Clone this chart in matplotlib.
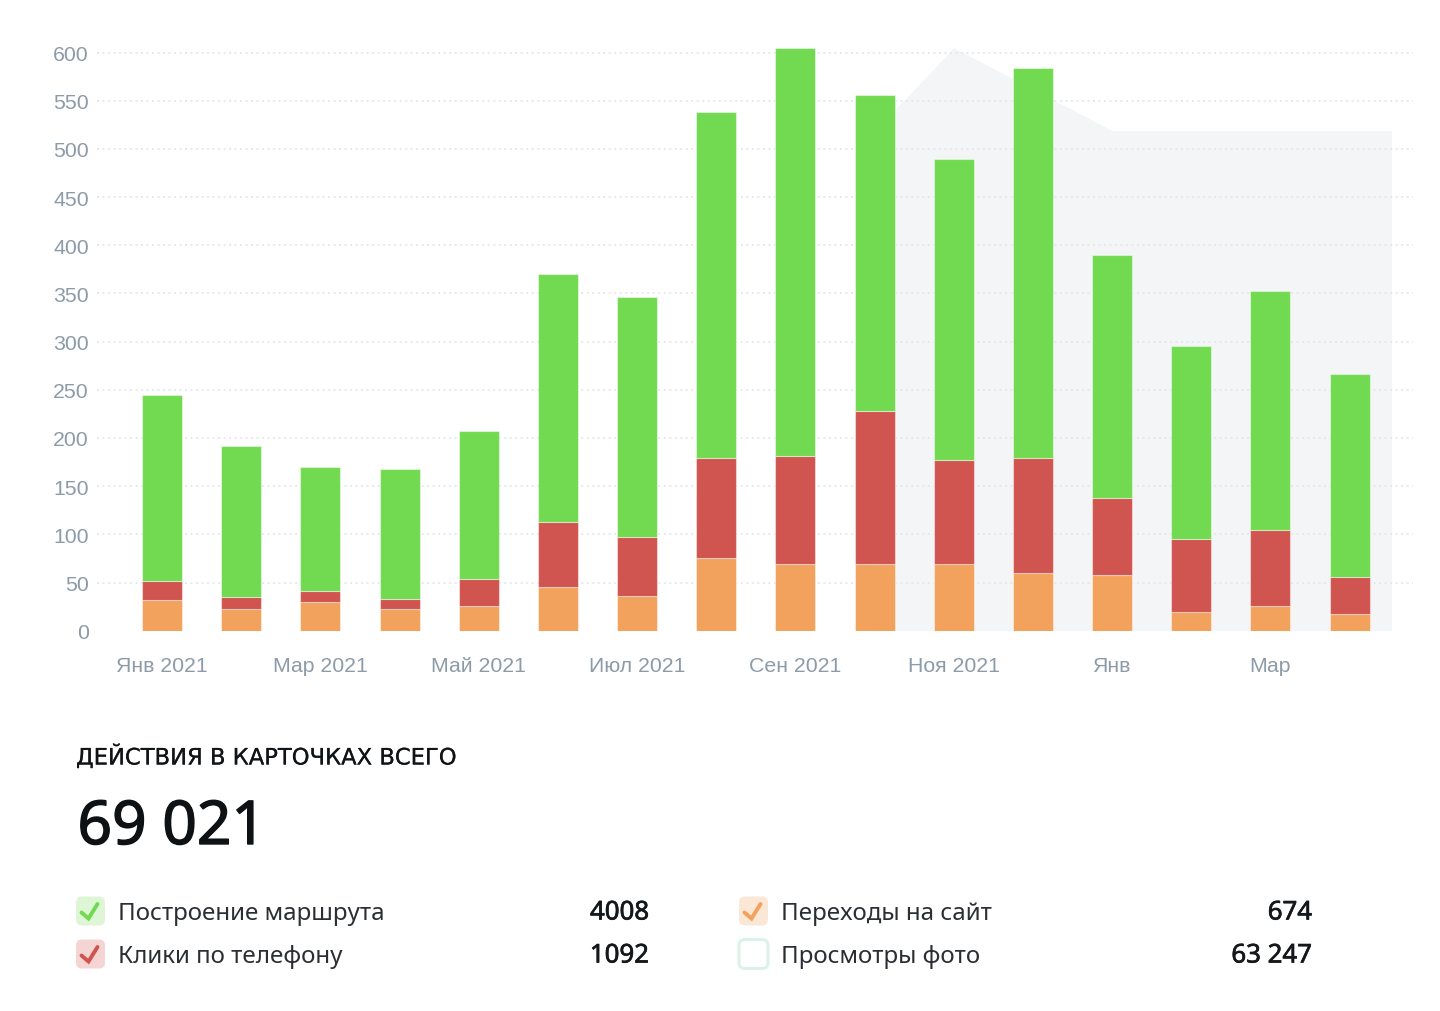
import numpy as np
import matplotlib
matplotlib.use("Agg")
import matplotlib.pyplot as plt
from matplotlib.patches import FancyBboxPatch
import matplotlib.patheffects as pe

months = ["Янв 2021","Фев 2021","Мар 2021","Апр 2021","Май 2021","Июн 2021","Июл 2021","Авг 2021",
          "Сен 2021","Окт 2021","Ноя 2021","Дек 2021","Янв","Фев","Мар","Апр"]
tick_labels = ["Янв 2021","Мар 2021","Май 2021","Июл 2021","Сен 2021","Ноя 2021","Янв","Мар"]
site_visits = [32,23,30,23,26,45,36,75,69,69,69,60,58,19,26,17]
phone_clicks = [20,12,11,10,28,68,61,104,112,159,108,119,80,76,78,39]
route_builds = [193,157,129,135,153,257,249,359,424,328,312,405,252,200,249,210]
photo_idx = [9,10,11,12,13,14,15,15.53]
photo_views = [518,605,562,519,519,519,519,519]
y_ticks = list(range(0,601,50))

title = "ДЕЙСТВИЯ В КАРТОЧКАХ ВСЕГО"
total = "69 021"
legend_names = ["Построение маршрута","Клики по телефону","Переходы на сайт","Просмотры фото"]
legend_values = ["4008","1092","674","63 247"]

W,H = 1440,1012
fig = plt.figure(figsize=(W/100,H/100),dpi=100,facecolor="white")
L,R,T,B = 97,1412.5,41.7,631.7
ax = fig.add_axes([L/W,1-B/H,(R-L)/W,(B-T)/H])
px_unit = (631-48)/605
ax.set_ylim(0,(B-T)/px_unit)
step = 79.17
ax.set_xlim((L-162)/step,(R-162)/step)
for s in ax.spines.values(): s.set_visible(False)

x = np.arange(len(months))
ax.fill_between(photo_idx,0,photo_views,color="#f3f5f7",lw=0,zorder=1)
ax.set_yticks(y_ticks)
ax.yaxis.grid(True,color="#e6e9eb",lw=1.4,linestyle=(0,(1,1.83)),zorder=2)
ax.set_axisbelow(False)
for i,g in enumerate(ax.get_ygridlines()):
    g.set_zorder(2)
    if i==0: g.set_visible(False)
bw = 40/step
a = np.array(site_visits); b = np.array(phone_clicks); c = np.array(route_builds)
kw = dict(width=bw,zorder=3,edgecolor=(1,1,1,.45),linewidth=.8)
ax.bar(x,a,color="#f2a25c",**kw)
ax.bar(x,b,bottom=a,color="#d0544f",**kw)
ax.bar(x,c,bottom=a+b,color="#72da50",**kw)
ax.set_xticks(x[::2],tick_labels)
ax.tick_params(length=0,labelcolor="#8d9ba8",labelsize=15.3)
ax.tick_params(axis="y",pad=6)
ax.tick_params(axis="x",pad=18)
for t in ax.get_xticklabels()+ax.get_yticklabels(): t.set_family("Liberation Sans")

ov = fig.add_axes([0,0,1,1]); ov.set_xlim(0,W); ov.set_ylim(H,0); ov.axis("off"); ov.patch.set_alpha(0)
F = "Noto Sans"; ink="#2b2f33"
def heavy(w,col): return [pe.withStroke(linewidth=w,foreground=col)]
ov.text(76,765.5,title,family="DejaVu Sans",fontsize=16.3,color="#111417",va="baseline",ha="left",
        path_effects=heavy(.15,"#111417"))
ov.text(77.5,845,total,family=F,fontsize=43.5,color="#0f1214",va="baseline",ha="left",
        path_effects=heavy(1.0,"#0f1214"))
rows=[(76,912),(76,955),(739,912),(739,955)]
fills=["#dff6d6","#f5d5d3","#fbe7d6","white"]; edges=[None,None,None,"#dbf2e8"]; checks=["#72da50","#d0544f","#f2a25c",None]
vx=[649,649,1312,1312]
for (bx,by),fc,ec,ck,n,v,vr in zip(rows,fills,edges,checks,legend_names,legend_values,vx):
    ov.add_patch(FancyBboxPatch((bx+4,by-10.5),21,21,boxstyle="round,pad=4,rounding_size=6",
        fc=fc,ec=ec if ec else "none",lw=2.2))
    if ck: ov.plot([bx+5.5,bx+12.5,bx+21.5],[by+1.5,by+7.5,by-7],color=ck,lw=2.8,solid_capstyle="round",solid_joinstyle="miter")
    ov.text(bx+42,by+8.5,n,family=F,fontsize=17.4,color=ink,va="baseline",ha="left")
    ov.text(vr,by+8.5,v,family=F,fontsize=18.6,color="#15181b",va="baseline",ha="right",
            path_effects=heavy(.5,"#15181b"))
fig.savefig("out.png",dpi=100)
